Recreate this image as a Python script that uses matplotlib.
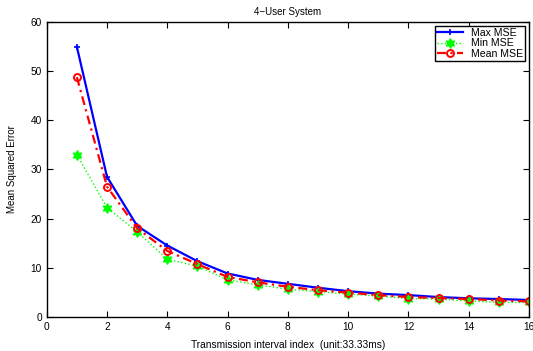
import matplotlib
matplotlib.use('Agg')
import matplotlib.pyplot as plt

plt.rcParams['font.family'] = ['Liberation Sans', 'DejaVu Sans']

idx = list(range(1, 17))
max_mse = [55.0, 28.5, 18.5, 14.5, 11.3, 8.8, 7.5, 6.7, 5.9, 5.2, 4.7, 4.4, 4.0, 3.75, 3.6, 3.4]
min_mse = [33.0, 22.2, 17.3, 11.7, 10.3, 7.5, 6.5, 5.6, 5.1, 4.6, 4.2, 3.7, 3.6, 3.2, 2.9, 2.9]
mean_mse = [48.8, 26.5, 18.0, 13.4, 10.7, 8.1, 7.0, 6.1, 5.4, 4.9, 4.4, 4.0, 3.8, 3.6, 3.3, 3.1]

fig = plt.figure(figsize=(5.33, 3.51), dpi=100)
ax = fig.add_axes([0.0876, 0.0977, 0.905, 0.8393])

ax.plot(idx, max_mse, color='#0000ff', linestyle='-', marker='+', markersize=5,
        markeredgewidth=1.2, linewidth=1.6, label='Max MSE')
ax.plot(idx, min_mse, color='#00ff00', linestyle=':', marker=(6, 1, 0), markersize=7,
        linewidth=1.0, label='Min MSE')
ax.plot(idx, mean_mse, color='#ff0000', linestyle=(0, (4, 2, 1, 2)), marker='o', markersize=5,
        markerfacecolor='none', markeredgewidth=1.4, linewidth=1.6, label='Mean MSE')

ax.set_xlim(0, 16)
ax.set_ylim(0, 60)
ax.set_xticks(range(0, 17, 2))
ax.set_yticks(range(0, 61, 10))
ax.tick_params(direction='in', top=True, right=True, labelsize=7.3, length=4, width=0.8)
for s in ax.spines.values():
    s.set_linewidth(1.0)

ax.set_title('4\u2212User System', fontsize=7, pad=5)
ax.set_xlabel('Transmission interval index  (unit:33.33ms)', fontsize=7.3, labelpad=6)
ax.set_ylabel('Mean Squared Error', fontsize=7, labelpad=10)

leg = ax.legend(loc='upper right', fontsize=7.6, fancybox=False, framealpha=1,
                edgecolor='black', borderpad=0.2, labelspacing=0.05, handlelength=2.4,
                borderaxespad=0.35)
leg.get_frame().set_linewidth(1.0)

fig.savefig('out.png', dpi=100)
